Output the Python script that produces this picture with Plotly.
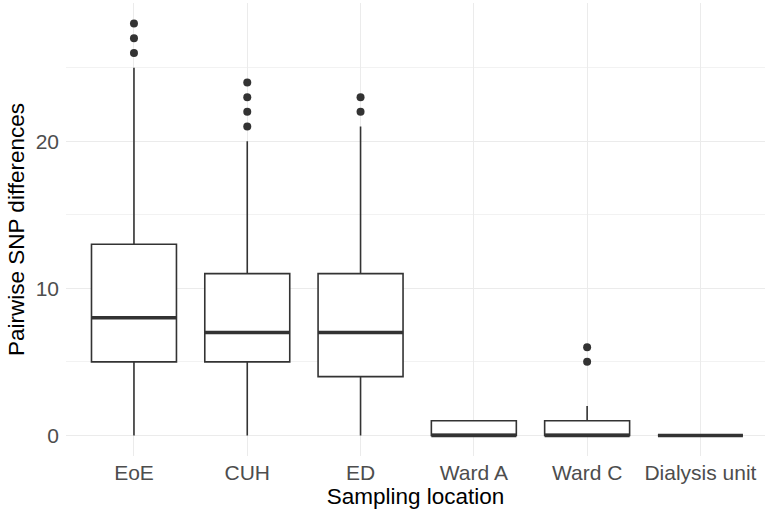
import plotly.graph_objects as go

categories = ["EoE", "CUH", "ED", "Ward A", "Ward C", "Dialysis unit"]
q1 = [5, 5, 4, 0, 0, 0]
median = [8, 7, 7, 0, 0, 0]
q3 = [13, 11, 11, 1, 1, 0]
lower_fence = [0, 0, 0, 0, 0, 0]
upper_fence = [25, 20, 21, 1, 2, 0]
outliers = [[26, 27, 28], [21, 22, 23, 24], [22, 23], [], [5, 6], []]

positions = list(range(1, len(categories) + 1))
box_w = 0.75
dark = "#333333"

fig = go.Figure()
for i, cat in enumerate(categories):
    fig.add_trace(go.Box(
        x=[positions[i]], q1=[q1[i]], median=[median[i]], q3=[q3[i]],
        lowerfence=[lower_fence[i]], upperfence=[upper_fence[i]],
        width=box_w, fillcolor="white", line=dict(color=dark, width=1.6),
        boxpoints=False, showlegend=False, name=cat, whiskerwidth=0,
    ))
    # thicker median line like ggplot
    fig.add_trace(go.Scatter(
        x=[positions[i] - box_w / 2, positions[i] + box_w / 2],
        y=[median[i], median[i]], mode="lines",
        line=dict(color=dark, width=3.5), showlegend=False, hoverinfo="skip",
    ))
    if outliers[i]:
        fig.add_trace(go.Scatter(
            x=[positions[i]] * len(outliers[i]), y=outliers[i], mode="markers",
            marker=dict(color=dark, size=8), showlegend=False,
        ))

fig.update_layout(
    width=765, height=514,
    margin=dict(l=66, r=0, t=3, b=58),
    plot_bgcolor="white", paper_bgcolor="white",
    font=dict(family="Liberation Sans, Arial, sans-serif"),
)
fig.update_xaxes(
    range=[0.4, 6.57], tickvals=positions, ticktext=categories,
    showgrid=True, gridcolor="#EBEBEB", gridwidth=1.3, zeroline=False,
    tickfont=dict(size=21, color="#4D4D4D"), ticks="", ticklabelstandoff=2,
    title=dict(text="Sampling location", font=dict(size=22.5, color="black"), standoff=0),
)
fig.update_yaxes(
    range=[-1.4, 29.4], tickvals=[0, 10, 20],
    showgrid=True, gridcolor="#EBEBEB", gridwidth=1.3, zeroline=False,
    minor=dict(tickvals=[5, 15, 25], showgrid=True, gridcolor="#F2F2F2", gridwidth=0.8),
    tickfont=dict(size=21, color="#4D4D4D"), ticks="", ticklabelstandoff=6,
    title=dict(text="Pairwise SNP differences", font=dict(size=22.5, color="black"), standoff=4),
)

fig.write_html("out.html")
